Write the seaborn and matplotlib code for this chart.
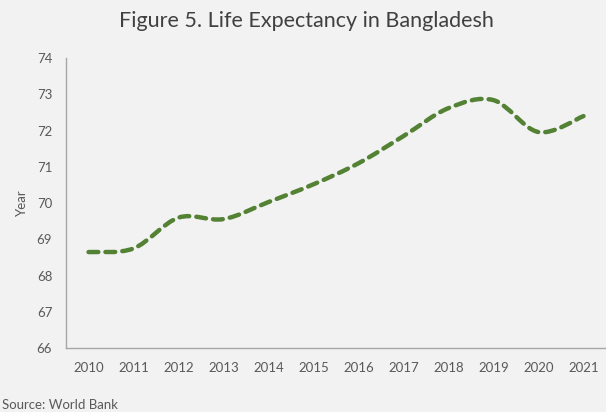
import numpy as np
import seaborn as sns
import matplotlib.pyplot as plt
from matplotlib.path import Path
from matplotlib.patches import PathPatch

years = [2010, 2011, 2012, 2013, 2014, 2015, 2016, 2017, 2018, 2019, 2020, 2021]
life_exp = [68.65, 68.75, 69.60, 69.56, 70.03, 70.52, 71.10, 71.85, 72.62, 72.84, 71.96, 72.40]
y_ticks = [66, 67, 68, 69, 70, 71, 72, 73, 74]

BG = '#f2f2f2'
GREEN = '#548235'
GREY_TEXT = '#595959'

sns.set_theme(style='white')
plt.rcParams['font.family'] = ['Lato', 'DejaVu Sans']


def smooth_path(x, y, t=1 / 6):
    # Catmull-Rom style bezier through the data points (like a "smoothed line")
    x = np.asarray(x, float)
    y = np.asarray(y, float)
    verts = [(x[0], y[0])]
    codes = [Path.MOVETO]
    n = len(x)
    for i in range(n - 1):
        p0 = max(i - 1, 0)
        p3 = min(i + 2, n - 1)
        c1 = (x[i] + (x[i + 1] - x[p0]) * t, y[i] + (y[i + 1] - y[p0]) * t)
        c2 = (x[i + 1] - (x[p3] - x[i]) * t, y[i + 1] - (y[p3] - y[i]) * t)
        verts += [c1, c2, (x[i + 1], y[i + 1])]
        codes += [Path.CURVE4] * 3
    return Path(verts, codes)


fig = plt.figure(figsize=(6.06, 4.12), dpi=100, facecolor=BG)
ax = fig.add_axes([0.109, 0.155, 0.891, 0.704], facecolor=BG)

patch = PathPatch(smooth_path(years, life_exp), facecolor='none', edgecolor=GREEN,
                  linewidth=3.2, linestyle=(0, (2.2, 1.6)), capstyle='round')
ax.add_patch(patch)

ax.set_xlim(2009.5, 2021.5)
ax.set_ylim(66, 74)
ax.set_xticks(years)
ax.set_xticklabels([str(y) for y in years])
ax.set_yticks(y_ticks)
ax.tick_params(axis='both', colors=GREY_TEXT, labelsize=9.5, length=0, pad=10)

sns.despine(ax=ax)
for side in ['left', 'bottom']:
    ax.spines[side].set_color('#a6a6a6')
    ax.spines[side].set_linewidth(1.0)

ax.set_ylabel('Year', color=GREY_TEXT, fontsize=9.5, labelpad=6)
ax.set_xlabel('')

fig.text(0.505, 0.948, 'Figure 5. Life Expectancy in Bangladesh', ha='center', va='center',
         fontsize=15.5, color='#404040')
fig.text(0.004, 0.018, 'Source: World Bank', ha='left', va='center', fontsize=9.5, color=GREY_TEXT)

plt.savefig('out.png', dpi=100, facecolor=BG)
